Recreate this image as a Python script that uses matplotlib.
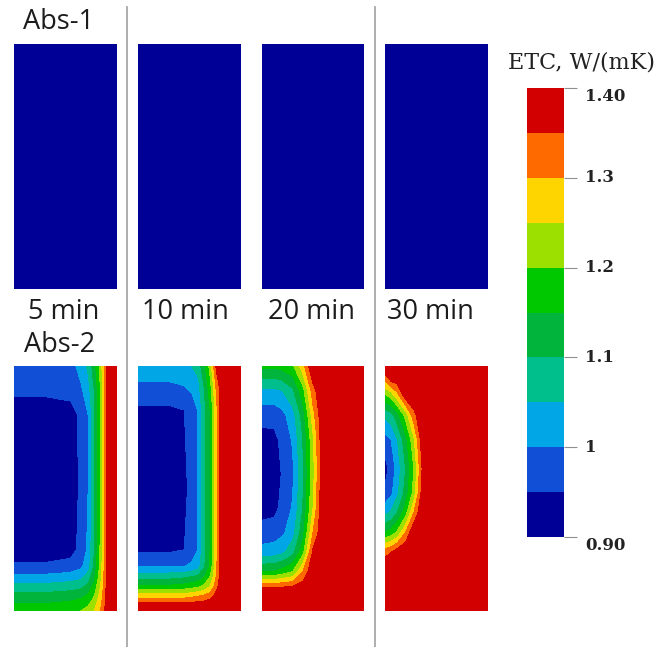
import numpy as np
import matplotlib
matplotlib.use("Agg")
import matplotlib.pyplot as plt

W, H = 670, 647

# ---------------- data ----------------
levels = [0.90, 0.95, 1.00, 1.05, 1.10, 1.15, 1.20, 1.25, 1.30, 1.35, 1.40]
level_colors = ["#000096", "#1150d6", "#00a6e6", "#00bf8c", "#00b43c",
                "#00c800", "#9ce000", "#ffd500", "#ff6a00", "#d20000"]
cbar_ticks = [0.90, 1.0, 1.1, 1.2, 1.3, 1.40]
cbar_ticklabels = ["0.90", "1", "1.1", "1.2", "1.3", "1.40"]
cbar_title = "ETC, W/(mK)"
time_labels = ["5 min", "10 min", "20 min", "30 min"]
row_labels = ["Abs-1", "Abs-2"]

# Abs-1: uniform field at all times
abs1_u = [0.0, 1.0]
abs1_v = [0.0, 1.0]
abs1_vals = [[0.91, 0.91], [0.91, 0.91]]

# Abs-2, 5 min  (u: width fraction from left, v: depth fraction from top)
p5_u = [0, 0.3, 0.55, 0.65, 0.72, 0.78, 0.84, 0.88, 0.92, 1.0]
p5_v = [0, 0.1, 0.2, 0.5, 0.75, 0.82, 0.88, 0.94, 1.0]
p5_vals = [
    [0.97, 0.97, 0.98, 1.02, 1.06, 1.13, 1.22, 1.31, 1.40, 1.40],
    [0.96, 0.96, 0.965, 0.99, 1.03, 1.10, 1.20, 1.30, 1.40, 1.40],
    [0.92, 0.92, 0.93, 0.96, 1.00, 1.09, 1.20, 1.30, 1.40, 1.40],
    [0.92, 0.92, 0.92, 0.96, 1.00, 1.09, 1.20, 1.30, 1.40, 1.40],
    [0.92, 0.92, 0.93, 0.965, 1.01, 1.10, 1.21, 1.30, 1.40, 1.40],
    [0.96, 0.96, 0.97, 0.99, 1.03, 1.11, 1.22, 1.31, 1.40, 1.40],
    [1.04, 1.04, 1.05, 1.06, 1.09, 1.15, 1.24, 1.32, 1.40, 1.40],
    [1.12, 1.12, 1.13, 1.14, 1.16, 1.20, 1.27, 1.33, 1.40, 1.40],
    [1.18, 1.18, 1.19, 1.20, 1.22, 1.25, 1.30, 1.35, 1.40, 1.40],
]

# Abs-2, 10 min
p10_u = [0, 0.3, 0.45, 0.52, 0.58, 0.64, 0.7, 0.76, 0.82, 1.0]
p10_v = [0, 0.08, 0.18, 0.5, 0.75, 0.82, 0.86, 0.9, 0.94, 0.97, 1.0]
p10_vals = [
    [1.04, 1.04, 1.045, 1.05, 1.07, 1.13, 1.22, 1.36, 1.40, 1.40],
    [0.99, 0.99, 1.00, 1.01, 1.03, 1.10, 1.18, 1.31, 1.40, 1.40],
    [0.94, 0.94, 0.95, 0.975, 1.00, 1.08, 1.15, 1.28, 1.40, 1.40],
    [0.92, 0.92, 0.935, 0.97, 1.00, 1.08, 1.15, 1.28, 1.40, 1.40],
    [0.94, 0.94, 0.95, 0.975, 1.00, 1.08, 1.15, 1.28, 1.40, 1.40],
    [1.00, 1.00, 1.00, 1.01, 1.03, 1.09, 1.16, 1.29, 1.40, 1.40],
    [1.08, 1.08, 1.09, 1.10, 1.11, 1.14, 1.20, 1.30, 1.40, 1.40],
    [1.16, 1.16, 1.17, 1.18, 1.19, 1.21, 1.25, 1.33, 1.40, 1.40],
    [1.28, 1.28, 1.28, 1.29, 1.30, 1.31, 1.33, 1.37, 1.40, 1.40],
    [1.36, 1.36, 1.36, 1.36, 1.37, 1.37, 1.38, 1.39, 1.40, 1.40],
    [1.40, 1.40, 1.40, 1.40, 1.40, 1.40, 1.40, 1.40, 1.40, 1.40],
]

# Abs-2, 20 min
p20_u = [0, 0.12, 0.2, 0.3, 0.4, 0.5, 0.6, 1.0]
p20_v = [0, 0.1, 0.2, 0.3, 0.44, 0.58, 0.68, 0.76, 0.84, 0.92, 1.0]
p20_vals = [
    [1.16, 1.16, 1.17, 1.19, 1.28, 1.40, 1.40, 1.40],
    [1.04, 1.04, 1.05, 1.09, 1.18, 1.33, 1.40, 1.40],
    [0.97, 0.97, 0.985, 1.03, 1.12, 1.28, 1.40, 1.40],
    [0.93, 0.935, 0.965, 1.005, 1.10, 1.24, 1.40, 1.40],
    [0.91, 0.92, 0.955, 0.99, 1.09, 1.23, 1.40, 1.40],
    [0.93, 0.935, 0.965, 1.005, 1.10, 1.25, 1.40, 1.40],
    [0.97, 0.975, 0.99, 1.03, 1.13, 1.30, 1.40, 1.40],
    [1.02, 1.025, 1.04, 1.08, 1.18, 1.36, 1.40, 1.40],
    [1.15, 1.155, 1.17, 1.20, 1.30, 1.40, 1.40, 1.40],
    [1.40, 1.40, 1.40, 1.40, 1.40, 1.40, 1.40, 1.40],
    [1.40, 1.40, 1.40, 1.40, 1.40, 1.40, 1.40, 1.40],
]

# Abs-2, 30 min
p30_u = [0, 0.06, 0.12, 0.2, 0.28, 0.36, 0.45, 1.0]
p30_v = [0, 0.04, 0.12, 0.2, 0.3, 0.42, 0.52, 0.6, 0.68, 0.76, 0.84, 1.0]
p30_vals = [
    [1.40, 1.40, 1.40, 1.40, 1.40, 1.40, 1.40, 1.40],
    [1.34, 1.40, 1.40, 1.40, 1.40, 1.40, 1.40, 1.40],
    [1.19, 1.22, 1.28, 1.38, 1.40, 1.40, 1.40, 1.40],
    [1.06, 1.08, 1.13, 1.22, 1.33, 1.40, 1.40, 1.40],
    [0.98, 1.00, 1.05, 1.13, 1.24, 1.38, 1.40, 1.40],
    [0.93, 0.97, 1.02, 1.10, 1.20, 1.35, 1.40, 1.40],
    [0.96, 0.99, 1.04, 1.12, 1.22, 1.37, 1.40, 1.40],
    [1.04, 1.06, 1.10, 1.18, 1.30, 1.40, 1.40, 1.40],
    [1.15, 1.17, 1.21, 1.30, 1.40, 1.40, 1.40, 1.40],
    [1.33, 1.35, 1.38, 1.40, 1.40, 1.40, 1.40, 1.40],
    [1.40, 1.40, 1.40, 1.40, 1.40, 1.40, 1.40, 1.40],
    [1.40, 1.40, 1.40, 1.40, 1.40, 1.40, 1.40, 1.40],
]

abs2_fields = [(p5_u, p5_v, p5_vals), (p10_u, p10_v, p10_vals),
               (p20_u, p20_v, p20_vals), (p30_u, p30_v, p30_vals)]

# ---------------- layout (pixels) ----------------
panel_x = [(14, 117), (138, 241), (262, 364), (385, 488)]
top_y = (44, 289)
bot_y = (366, 611)
label_x = [64, 185, 311, 430]
sep_x = [127, 375]


def fig_rect(x0, x1, y0, y1):
    return [x0 / W, 1 - y1 / H, (x1 - x0) / W, (y1 - y0) / H]


fig = plt.figure(figsize=(W / 100, H / 100), dpi=100)
fig.patch.set_facecolor("white")

mappable = None
for i, (x0, x1) in enumerate(panel_x):
    # Abs-1 (top)
    ax = fig.add_axes(fig_rect(x0, x1, *top_y))
    ax.contourf(abs1_u, abs1_v, np.array(abs1_vals), levels=levels, colors=level_colors)
    ax.set_xlim(0, 1)
    ax.set_ylim(1, 0)
    ax.axis("off")
    # Abs-2 (bottom)
    u, v, vals = abs2_fields[i]
    ax = fig.add_axes(fig_rect(x0, x1, *bot_y))
    cs = ax.contourf(u, v, np.array(vals), levels=levels, colors=level_colors)
    mappable = cs
    ax.set_xlim(0, 1)
    ax.set_ylim(1, 0)
    ax.axis("off")

# separators
for sx in sep_x:
    fig.add_artist(plt.Line2D([sx / W, sx / W], [0, 1 - 7 / H], color="#a8a8a8", lw=1.3))

sans = ["Open Sans", "DejaVu Sans"]
txt_color = "#1c1c1c"
fig.text(23 / W, 1 - 22 / H, row_labels[0], ha="left", va="center",
         fontsize=19.5, family=sans, color=txt_color)
fig.text(24 / W, 1 - 345 / H, row_labels[1], ha="left", va="center",
         fontsize=19.5, family=sans, color=txt_color)
for lx, lab in zip(label_x, time_labels):
    fig.text(lx / W, 1 - 312 / H, lab, ha="center", va="center",
             fontsize=19.5, family=sans, color=txt_color)

# colorbar
cax = fig.add_axes(fig_rect(527, 564, 88, 537))
cb = fig.colorbar(mappable, cax=cax, ticks=cbar_ticks)
cb.outline.set_visible(False)
cax.tick_params(axis="y", length=9, width=0.8, color="#909090", labelright=False,
                direction="out")
serif = ["DejaVu Serif"]
for t, lab in zip(cbar_ticks, cbar_ticklabels):
    va = "top" if lab in ("1.40", "0.90") else "center"
    cax.text(1.58, t, lab, transform=cax.get_yaxis_transform(), ha="left", va=va,
             fontsize=12, family=serif, fontweight="bold", color="#222222")
fig.text(582 / W, 1 - 62 / H, cbar_title, ha="center", va="center",
         fontsize=16, family=serif, color="#222222")

fig.savefig("out.png", dpi=100, facecolor="white")
